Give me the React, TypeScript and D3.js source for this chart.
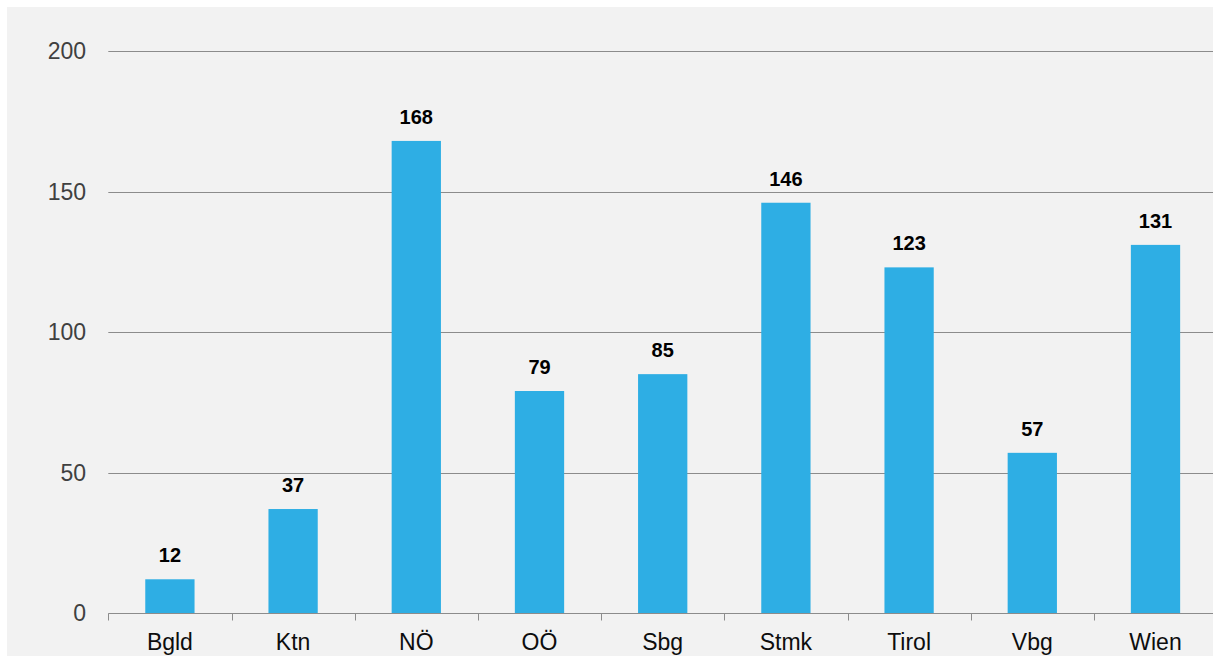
import {useEffect, useRef} from 'react';
import * as d3 from 'd3';

const regions = ['Bgld', 'Ktn', 'NÖ', 'OÖ', 'Sbg', 'Stmk', 'Tirol', 'Vbg', 'Wien'];
const counts = [12, 37, 168, 79, 85, 146, 123, 57, 131];
const yTicks = [0, 50, 100, 150, 200];

export default function App() {
  const svgRef = useRef<SVGSVGElement>(null);
  const width = 1213;
  const height = 656;

  useEffect(() => {
    if (!svgRef.current) return;
    const svg = d3.select(svgRef.current);
    svg.selectAll('*').remove();

    const font = '"Liberation Sans", Arial, sans-serif';
    const left = 108.3;
    const step = 123.2;

    svg.append('rect').attr('width', width).attr('height', height).attr('fill', '#ffffff');
    svg
      .append('rect')
      .attr('x', 7)
      .attr('y', 7)
      .attr('width', width - 7)
      .attr('height', height - 7)
      .attr('fill', '#f2f2f2');

    const x = d3
      .scaleBand<string>()
      .domain(regions)
      .range([left, left + step * regions.length])
      .paddingInner(0.6)
      .paddingOuter(0.3);

    const y = d3.scaleLinear().domain([0, 200]).range([613, 51]);

    // grid lines
    svg
      .append('g')
      .selectAll('line')
      .data(yTicks.filter((t) => t > 0))
      .join('line')
      .attr('x1', left)
      .attr('x2', width)
      .attr('y1', (d) => Math.round(y(d)) + 0.5)
      .attr('y2', (d) => Math.round(y(d)) + 0.5)
      .attr('stroke', '#8c8c8c')
      .attr('stroke-width', 1);

    // y labels
    svg
      .append('g')
      .selectAll('text')
      .data(yTicks)
      .join('text')
      .attr('x', 86)
      .attr('y', (d) => y(d))
      .attr('dy', '0.35em')
      .attr('text-anchor', 'end')
      .attr('font-family', font)
      .attr('font-size', 23)
      .attr('fill', '#404040')
      .text((d) => d);

    // bars
    svg
      .append('g')
      .selectAll('rect')
      .data(regions)
      .join('rect')
      .attr('x', (d) => x(d)!)
      .attr('width', x.bandwidth())
      .attr('y', (d, i) => y(counts[i]))
      .attr('height', (d, i) => y(0) - y(counts[i]))
      .attr('fill', '#2eaee4');

    // value labels
    svg
      .append('g')
      .selectAll('text')
      .data(regions)
      .join('text')
      .attr('x', (d) => x(d)! + x.bandwidth() / 2)
      .attr('y', (d, i) => y(counts[i]) - 17)
      .attr('text-anchor', 'middle')
      .attr('font-family', font)
      .attr('font-size', 20)
      .attr('font-weight', 'bold')
      .attr('fill', '#000000')
      .text((d, i) => counts[i]);

    // x axis
    const axisY = Math.round(y(0)) + 0.5;
    svg
      .append('line')
      .attr('x1', left)
      .attr('x2', width)
      .attr('y1', axisY)
      .attr('y2', axisY)
      .attr('stroke', '#8c8c8c')
      .attr('stroke-width', 1);

    svg
      .append('g')
      .selectAll('line')
      .data(d3.range(regions.length + 1))
      .join('line')
      .attr('x1', (i) => Math.round(left + i * step) + 0.5)
      .attr('x2', (i) => Math.round(left + i * step) + 0.5)
      .attr('y1', axisY)
      .attr('y2', axisY + 7)
      .attr('stroke', '#8c8c8c')
      .attr('stroke-width', 1);

    svg
      .append('g')
      .selectAll('text')
      .data(regions)
      .join('text')
      .attr('x', (d) => x(d)! + x.bandwidth() / 2)
      .attr('y', 650)
      .attr('text-anchor', 'middle')
      .attr('font-family', font)
      .attr('font-size', 23)
      .attr('fill', '#0d0d0d')
      .text((d) => d);
  }, []);

  return (
    <svg
      ref={svgRef}
      width={width}
      height={height}
      style={{position: 'fixed', top: 0, left: 0, display: 'block'}}
    />
  );
}
